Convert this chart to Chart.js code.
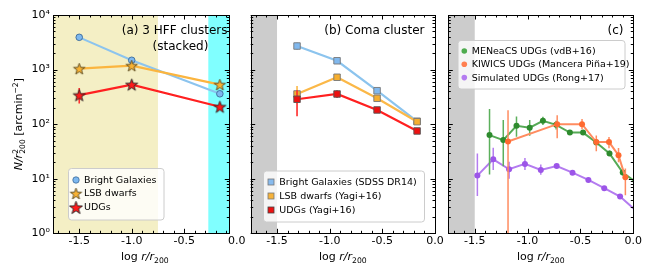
<!DOCTYPE html>
<html><head><meta charset="utf-8">
<script src="https://cdn.jsdelivr.net/npm/chart.js@4.4.1/dist/chart.umd.min.js"></script>
<style>
html,body{margin:0;padding:0;background:#fff;}
#wrap{position:relative;width:660px;height:275px;overflow:hidden;}
canvas{position:absolute;left:0;top:0;}
</style></head><body>
<div id="wrap">
<canvas id="ca" width="660" height="275"></canvas>
<canvas id="cb" width="660" height="275"></canvas>
<canvas id="cc" width="660" height="275"></canvas>
</div>
<script>
// ---------------- data ----------------
const xTicks = [-1.5, -1.0, -0.5, 0.0];
const xTickLabels = ['-1.5', '-1.0', '-0.5', '0.0'];
const yTicks = [1, 10, 100, 1000, 10000];
const yTickLabels = ['10\u2070', '10\u00B9', '10\u00B2', '10\u00B3', '10\u2074'];

// (a) 3 HFF clusters (stacked)
const hffR = [-1.5, -1.0, -0.16];
const hffBright = [3900, 1480, 360];
const hffLSB = [1040, 1180, 530];
const hffLSBLo = [990, 1120, 500];
const hffLSBHi = [1090, 1240, 560];
const hffUDG = [340, 530, 208];
const hffUDGLo = [240, 470, 190];
const hffUDGHi = [460, 600, 228];
const hffYellowRange = [-1.75, -0.75];
const hffCyanRange = [-0.27, -0.07];

// (b) Coma cluster
const comaR = [-1.31, -0.93, -0.55, -0.17];
const comaBright = [2700, 1450, 410, 113];
const comaBrightLo = [2300, 1360, 375, 106];
const comaBrightHi = [3150, 1550, 450, 121];
const comaLSB = [357, 723, 298, 111];
const comaLSBLo = [240, 660, 270, 103];
const comaLSBHi = [500, 790, 330, 120];
const comaUDG = [286, 357, 182, 75];
const comaUDGLo = [140, 300, 165, 69];
const comaUDGHi = [420, 420, 200, 82];

// (c) literature
const menR = [-1.36, -1.23, -1.105, -0.98, -0.855, -0.73, -0.60, -0.475, -0.35, -0.225, -0.10, 0.025];
const menN = [63, 51, 93, 86, 115, 97, 70, 70, 46, 29, 13, 8.6];
const menLo = [12, 17, 59, 61, 96, 80, 63, 63, 41, 26, 11.5, 7.6];
const menHi = [190, 119, 138, 119, 136, 115, 78, 78, 52, 33, 15, 10];
const kiwR = [-1.185, -0.72, -0.485, -0.35, -0.23, -0.14, -0.075];
const kiwN = [48, 100, 100, 47, 47, 27, 10.6];
const kiwLo = [0.3, 55, 81, 32, 36, 20, 5];
const kiwHi = [180, 145, 124, 62, 58, 36.5, 15.4];
const rongR = [-1.475, -1.325, -1.175, -1.025, -0.875, -0.725, -0.575, -0.425, -0.275, -0.125, 0.025];
const rongN = [11.4, 22.7, 14.9, 18.7, 14.5, 17.1, 12.9, 9.5, 6.7, 4.7, 2.6];
const rongLo = [4.8, 14.5, 10, 14.5, 11.8, 16, 12.1, 8.9, 6.3, 4.4, 2.4];
const rongHi = [29, 37, 20.5, 24, 18.2, 18.2, 13.7, 10.1, 7.1, 5.0, 2.8];
const innerExcluded = [-1.75, -1.5];

// ---------------- helpers ----------------
const FONT = 'DejaVu Sans';
Chart.defaults.font.family = FONT;
Chart.defaults.color = '#000';
Chart.defaults.animation = false;

function pts(xs, ys) { return xs.map((x, i) => ({ x: x, y: ys[i] })); }

function makeStar(R, fill, stroke) {
  const s = Math.ceil(2 * R + 4) | 1;
  const c = document.createElement('canvas');
  c.width = s; c.height = s;
  const g = c.getContext('2d');
  const cx = s / 2, cy = s / 2 + 0.6, r = R * 0.4;
  g.beginPath();
  for (let i = 0; i < 10; i++) {
    const ang = -Math.PI / 2 + i * Math.PI / 5;
    const rr = (i % 2) ? r : R;
    g.lineTo(cx + rr * Math.cos(ang), cy + rr * Math.sin(ang));
  }
  g.closePath();
  g.fillStyle = fill; g.fill();
  g.lineWidth = 0.9; g.strokeStyle = stroke; g.stroke();
  return c;
}
const starOrange = makeStar(6, '#f8b232', '#5a4a20');
const starRed = makeStar(6.3, '#ff1a1a', '#222');
const starOrangeL = makeStar(6, '#f8b232', '#5a4a20');
const starRedL = makeStar(6.8, '#ff1a1a', '#222');

function drawRich(ctx, pieces, cx, cy) {
  pieces.forEach(p => { ctx.font = (p.it ? 'italic ' : '') + p.s + 'px ' + FONT; p.w = ctx.measureText(p.t).width; });
  let x = 0, prevX = 0; const pos = [];
  pieces.forEach(p => {
    if (p.stack) { pos.push(prevX); x = Math.max(x, prevX + p.w); }
    else { pos.push(x); prevX = x; x += p.w; }
  });
  const start = cx - x / 2;
  ctx.textAlign = 'left'; ctx.textBaseline = 'alphabetic';
  pieces.forEach((p, i) => {
    ctx.font = (p.it ? 'italic ' : '') + p.s + 'px ' + FONT;
    ctx.fillText(p.t, start + pos[i], cy + (p.dy || 0));
  });
}

function xTitlePieces() {
  return [{ t: 'log ', s: 11 }, { t: 'r/r', s: 11, it: true }, { t: '200', s: 7.7, dy: 2.5 }];
}
function yTitlePieces() {
  return [{ t: 'N/r', s: 11, it: true }, { t: '2', s: 7.7, dy: -4.5 }, { t: '200', s: 7.7, dy: 2.8, stack: true },
    { t: ' [arcmin', s: 11 }, { t: '\u22122', s: 7.7, dy: -4.5 }, { t: ']', s: 11 }];
}

function roundRect(ctx, x, y, w, h, r) {
  ctx.beginPath();
  ctx.moveTo(x + r, y); ctx.lineTo(x + w - r, y); ctx.arcTo(x + w, y, x + w, y + r, r);
  ctx.lineTo(x + w, y + h - r); ctx.arcTo(x + w, y + h, x + w - r, y + h, r);
  ctx.lineTo(x + r, y + h); ctx.arcTo(x, y + h, x, y + h - r, r);
  ctx.lineTo(x, y + r); ctx.arcTo(x, y, x + r, y, r); ctx.closePath();
}

const panelCfg = {};

const mplPlugin = {
  id: 'mpl',
  beforeDatasetsDraw(chart) {
    const cfg = panelCfg[chart.canvas.id];
    const { ctx, chartArea: a, scales: { x } } = chart;
    ctx.save();
    ctx.beginPath(); ctx.rect(a.left, a.top, a.width, a.height); ctx.clip();
    cfg.spans.forEach(s => {
      const x0 = x.getPixelForValue(s.range[0]), x1 = x.getPixelForValue(s.range[1]);
      ctx.fillStyle = s.color; ctx.fillRect(x0, a.top, x1 - x0, a.height);
    });
    ctx.restore();
  },
  beforeDatasetDraw(chart, args) {
    const ds = chart.data.datasets[args.index];
    if (!ds.errLo) return;
    const { ctx, chartArea: a, scales: { x, y } } = chart;
    ctx.save();
    ctx.beginPath(); ctx.rect(a.left, a.top, a.width, a.height); ctx.clip();
    ctx.strokeStyle = ds.errColor; ctx.lineWidth = ds.errWidth;
    ds.data.forEach((p, i) => {
      const lo = ds.errLo[i], hi = ds.errHi[i];
      if (lo == null || hi == null) return;
      const px = x.getPixelForValue(p.x);
      ctx.beginPath();
      ctx.moveTo(px, y.getPixelForValue(lo));
      ctx.lineTo(px, y.getPixelForValue(hi));
      ctx.stroke();
    });
    ctx.restore();
  },
  afterDraw(chart) {
    const cfg = panelCfg[chart.canvas.id];
    const { ctx, chartArea: a, scales: { x, y } } = chart;
    ctx.save();
    ctx.strokeStyle = '#000'; ctx.lineWidth = 1;
    const L1 = 4.5, L2 = 2.5;
    for (let k = -20; k <= 0; k++) {
      const v = k / 10;
      if (v < x.min - 1e-9 || v > x.max + 1e-9) continue;
      const major = (k % 5 === 0);
      const L = major ? L1 : L2;
      const px = Math.round(x.getPixelForValue(v)) + 0.5;
      ctx.beginPath();
      ctx.moveTo(px, a.bottom); ctx.lineTo(px, a.bottom - L);
      ctx.moveTo(px, a.top); ctx.lineTo(px, a.top + L);
      ctx.stroke();
    }
    for (let e = 0; e <= 4; e++) {
      for (let m = 1; m <= 9; m++) {
        const v = m * Math.pow(10, e);
        if (v > 10000.5) continue;
        const L = (m === 1) ? L1 : L2;
        const py = Math.round(y.getPixelForValue(v)) + 0.5;
        ctx.beginPath();
        ctx.moveTo(a.left, py); ctx.lineTo(a.left + L, py);
        ctx.moveTo(a.right, py); ctx.lineTo(a.right - L, py);
        ctx.stroke();
      }
    }
    ctx.strokeRect(Math.round(a.left) + 0.5, Math.round(a.top) + 0.5, Math.round(a.right) - Math.round(a.left), Math.round(a.bottom) - Math.round(a.top));

    ctx.fillStyle = '#000';
    const cx = (x.getPixelForValue(-1.75) + x.getPixelForValue(0)) / 2;
    drawRich(ctx, xTitlePieces(), cx, 260);
    if (cfg.yTitle) {
      ctx.save();
      ctx.translate(22, (a.top + a.bottom) / 2);
      ctx.rotate(-Math.PI / 2);
      drawRich(ctx, yTitlePieces(), 0, 0);
      ctx.restore();
    }
    cfg.texts.forEach(t => {
      ctx.font = t.size + 'px ' + FONT;
      ctx.textAlign = t.align; ctx.textBaseline = 'middle';
      ctx.fillText(t.t, t.x, t.y);
    });
    const lg = cfg.legend;
    roundRect(ctx, lg.x, lg.y, lg.w, lg.h, 3);
    ctx.fillStyle = 'rgba(255,255,255,0.8)'; ctx.fill();
    ctx.strokeStyle = '#cccccc'; ctx.lineWidth = 1; ctx.stroke();
    lg.rows.forEach((r) => {
      const ds = chart.data.datasets[r.ds];
      const my = r.y;
      const mk = r.marker;
      if (mk.type === 'circle') {
        ctx.beginPath(); ctx.arc(lg.mx, my, mk.r, 0, Math.PI * 2);
        ctx.fillStyle = mk.fill; ctx.fill();
        if (mk.stroke) { ctx.strokeStyle = mk.stroke; ctx.lineWidth = 0.8; ctx.stroke(); }
      } else if (mk.type === 'square') {
        ctx.fillStyle = mk.fill; ctx.fillRect(lg.mx - mk.r, my - mk.r, 2 * mk.r, 2 * mk.r);
        ctx.strokeStyle = mk.stroke; ctx.lineWidth = 0.8;
        ctx.strokeRect(lg.mx - mk.r, my - mk.r, 2 * mk.r, 2 * mk.r);
      } else if (mk.type === 'img') {
        ctx.drawImage(mk.img, lg.mx - mk.img.width / 2, my - mk.img.height / 2);
      }
      ctx.fillStyle = '#000';
      ctx.font = '9.5px ' + FONT; ctx.textAlign = 'left'; ctx.textBaseline = 'middle';
      ctx.fillText(ds.label, lg.tx, my + 0.5);
    });
    ctx.restore();
  }
};

function makeChart(id, opt) {
  const xScale = {
    type: 'linear', min: opt.xmin, max: opt.xmax, position: 'bottom',
    grid: { display: false, drawTicks: false }, border: { display: false },
    ticks: {
      autoSkip: false, maxRotation: 0, padding: 1, color: '#000',
      font: { family: FONT, size: 11 },
      callback: (v) => { const i = xTicks.indexOf(v); return i >= 0 ? xTickLabels[i] : ''; }
    },
    afterBuildTicks: (s) => { s.ticks = xTicks.map(v => ({ value: v })); },
    afterFit: (s) => { s.height = 30; }
  };
  const yScale = {
    type: 'logarithmic', min: 1, max: 10000, position: 'left',
    grid: { display: false, drawTicks: false }, border: { display: false },
    ticks: {
      display: opt.yLabels, autoSkip: false, padding: 3, color: '#000',
      font: { family: FONT, size: 11 },
      callback: (v) => { const i = yTicks.indexOf(v); return i >= 0 ? yTickLabels[i] : ''; }
    },
    afterBuildTicks: (s) => { s.ticks = yTicks.map(v => ({ value: v })); },
    afterFit: (s) => { s.width = opt.yWidth; }
  };
  return new Chart(document.getElementById(id), {
    type: 'line',
    data: { datasets: opt.datasets },
    options: {
      responsive: false, animation: false, devicePixelRatio: 1,
      layout: { padding: { left: opt.padL, right: opt.padR, top: 15, bottom: 11.7 } },
      plugins: { legend: { display: false }, tooltip: { enabled: false } },
      scales: { x: xScale, y: yScale },
      elements: { line: { tension: 0 } }
    },
    plugins: [mplPlugin]
  });
}

// ---- panel (a)
panelCfg.ca = {
  spans: [{ range: hffYellowRange, color: '#f4efc5' }, { range: hffCyanRange, color: '#80ffff' }],
  yTitle: true,
  texts: [
    { t: '(a) 3 HFF clusters', x: 227.5, y: 31, align: 'right', size: 12 },
    { t: '(stacked)', x: 180.5, y: 47, align: 'center', size: 12 }
  ],
  legend: {
    x: 68.5, y: 168.5, w: 95.5, h: 51.5, mx: 76, tx: 84,
    rows: [
      { ds: 0, y: 180, marker: { type: 'circle', r: 3.2, fill: '#7db8ef', stroke: '#3b6a99' } },
      { ds: 1, y: 193.5, marker: { type: 'img', img: starOrangeL } },
      { ds: 2, y: 207.5, marker: { type: 'img', img: starRedL } }
    ]
  }
};
makeChart('ca', {
  xmin: -1.75, xmax: -0.07, padL: 0, padR: 660 - 229.3, yWidth: 53, yLabels: true,
  datasets: [
    { label: 'Bright Galaxies', data: pts(hffR, hffBright), order: 3, clip: 0,
      borderColor: '#8cc4ee', borderWidth: 2, pointStyle: 'circle', pointRadius: 3.3,
      pointBackgroundColor: '#7db8ef', pointBorderColor: '#3b6a99', pointBorderWidth: 0.9 },
    { label: 'LSB dwarfs', data: pts(hffR, hffLSB), order: 2, clip: 0,
      borderColor: '#fbb53f', borderWidth: 2.2, pointStyle: starOrange, pointRadius: 6,
      errLo: hffLSBLo, errHi: hffLSBHi, errColor: '#fbb53f', errWidth: 1.6 },
    { label: 'UDGs', data: pts(hffR, hffUDG), order: 1, clip: 0,
      borderColor: '#ff2020', borderWidth: 2.2, pointStyle: starRed, pointRadius: 6,
      errLo: hffUDGLo, errHi: hffUDGHi, errColor: '#ff3030', errWidth: 1.6 }
  ]
});

// ---- panel (b)
panelCfg.cb = {
  spans: [{ range: innerExcluded, color: '#cccccc' }],
  yTitle: false,
  texts: [{ t: '(b) Coma cluster', x: 424.5, y: 31, align: 'right', size: 12 }],
  legend: {
    x: 263.5, y: 171, w: 161, h: 51, mx: 271, tx: 279.3,
    rows: [
      { ds: 0, y: 182, marker: { type: 'square', r: 3, fill: '#88bbee', stroke: '#777' } },
      { ds: 1, y: 196, marker: { type: 'square', r: 3, fill: '#f6b23a', stroke: '#777' } },
      { ds: 2, y: 210, marker: { type: 'square', r: 3, fill: '#ee1111', stroke: '#444' } }
    ]
  }
};
makeChart('cb', {
  xmin: -1.75, xmax: 0, padL: 250.7, padR: 660 - 435, yWidth: 0, yLabels: false,
  datasets: [
    { label: 'Bright Galaxies (SDSS DR14)', data: pts(comaR, comaBright), order: 3, clip: 0,
      borderColor: '#8cc4ee', borderWidth: 2.2, pointStyle: 'rect', pointRadius: 4.6,
      pointBackgroundColor: '#80b8ee', pointBorderColor: '#777', pointBorderWidth: 0.9,
      errLo: comaBrightLo, errHi: comaBrightHi, errColor: '#8cc4ee', errWidth: 1.6 },
    { label: 'LSB dwarfs (Yagi+16)', data: pts(comaR, comaLSB), order: 2, clip: 0,
      borderColor: '#fbb848', borderWidth: 2.2, pointStyle: 'rect', pointRadius: 4.6,
      pointBackgroundColor: '#f6ae2e', pointBorderColor: '#777', pointBorderWidth: 0.9,
      errLo: comaLSBLo, errHi: comaLSBHi, errColor: '#fbb848', errWidth: 1.6 },
    { label: 'UDGs (Yagi+16)', data: pts(comaR, comaUDG), order: 1, clip: 0,
      borderColor: '#ff2020', borderWidth: 2.2, pointStyle: 'rect', pointRadius: 4.6,
      pointBackgroundColor: '#ee1010', pointBorderColor: '#555', pointBorderWidth: 0.9,
      errLo: comaUDGLo, errHi: comaUDGHi, errColor: '#ff2a2a', errWidth: 1.6 }
  ]
});

// ---- panel (c)
panelCfg.cc = {
  spans: [{ range: innerExcluded, color: '#cccccc' }],
  yTitle: false,
  texts: [{ t: '(c)', x: 623.5, y: 31, align: 'right', size: 12 }],
  legend: {
    x: 458, y: 40.5, w: 167, h: 48.5, mx: 464.3, tx: 471.7,
    rows: [
      { ds: 0, y: 51, marker: { type: 'circle', r: 2.8, fill: '#4fac4f' } },
      { ds: 1, y: 64.3, marker: { type: 'circle', r: 2.8, fill: '#ff7f50' } },
      { ds: 2, y: 77.6, marker: { type: 'circle', r: 2.8, fill: '#b47cf0' } }
    ]
  }
};
makeChart('cc', {
  xmin: -1.75, xmax: 0, padL: 448.3, padR: 660 - 633.3, yWidth: 0, yLabels: false,
  datasets: [
    { label: 'MENeaCS UDGs (vdB+16)', data: pts(menR, menN), order: 2, clip: 0,
      borderColor: '#55aa55', borderWidth: 2, pointStyle: 'circle', pointRadius: 3,
      pointBackgroundColor: '#2e8b2e', pointBorderColor: '#2e8b2e', pointBorderWidth: 0,
      errLo: menLo, errHi: menHi, errColor: '#5cb05c', errWidth: 1.5 },
    { label: 'KIWICS UDGs (Mancera Piña+19)', data: pts(kiwR, kiwN), order: 1, clip: 0,
      borderColor: '#ff8c60', borderWidth: 2, pointStyle: 'circle', pointRadius: 3,
      pointBackgroundColor: '#ff6a30', pointBorderColor: '#ff6a30', pointBorderWidth: 0,
      errLo: kiwLo, errHi: kiwHi, errColor: '#ff8c60', errWidth: 1.5 },
    { label: 'Simulated UDGs (Rong+17)', data: pts(rongR, rongN), order: 3, clip: 0,
      borderColor: '#b47cf0', borderWidth: 2, pointStyle: 'circle', pointRadius: 3,
      pointBackgroundColor: '#9c55e8', pointBorderColor: '#9c55e8', pointBorderWidth: 0,
      errLo: rongLo, errHi: rongHi, errColor: '#b47cf0', errWidth: 1.5 }
  ]
});
</script>
</body></html>
